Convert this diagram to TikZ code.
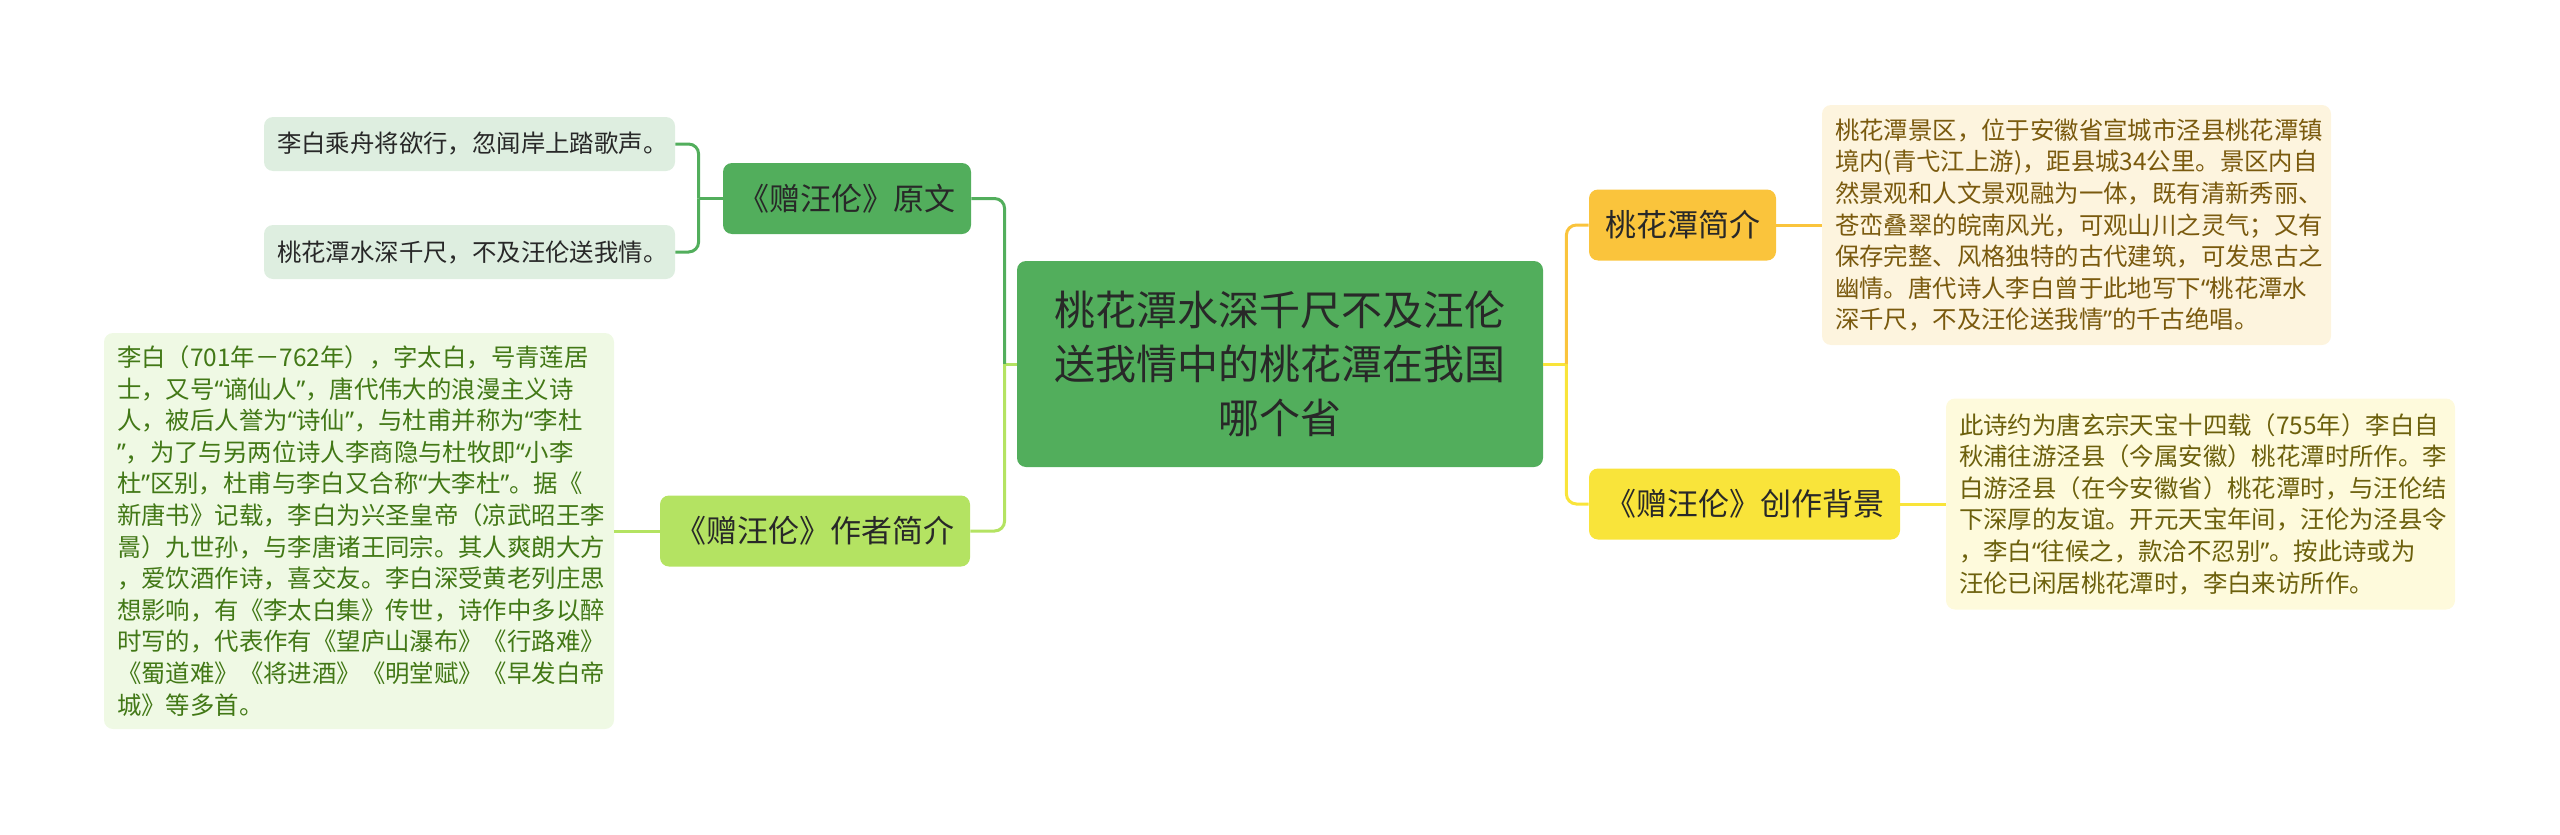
\documentclass[tikz,border=0pt]{standalone}
\usepackage{fontspec}
\setmainfont{Noto Sans CJK SC}
\newfontfamily\quotefont{Noto Sans}
\newcommand{\qtL}{{\quotefont “}}
\newcommand{\qtR}{{\quotefont ”}}
\usepackage{tikz}
\usetikzlibrary{positioning}
\definecolor{mapGreen}{RGB}{82,174,92}
\definecolor{mapLime}{RGB}{180,227,98}
\definecolor{mapOrange}{RGB}{250,196,60}
\definecolor{mapYellow}{RGB}{249,228,58}
\definecolor{leafGreen}{RGB}{222,238,224}
\definecolor{leafLime}{RGB}{239,249,228}
\definecolor{leafOrange}{RGB}{253,244,222}
\definecolor{leafYellow}{RGB}{254,250,220}
\definecolor{txtDark}{RGB}{40,40,40}
\definecolor{txtLime}{RGB}{66,120,22}
\definecolor{txtOrange}{RGB}{122,90,14}
\definecolor{txtYellow}{RGB}{108,96,12}

\begin{document}
\begin{tikzpicture}[x=0.5pt,y=-0.5pt,
    box/.style={rounded corners=4.5pt, inner sep=0pt},
    rootbox/.style={box, fill=mapGreen, text=txtDark, align=center,
      font=\fontsize{20.5}{27}\selectfont},
    midbox/.style={box, text=txtDark, minimum height=35.5pt,
      font=\fontsize{15.5}{19}\selectfont},
    leafbox/.style={box, inner xsep=6.5pt, align=left,
      font=\fontsize{12.2}{15.8}\selectfont},
    link/.style={line width=1.5pt, rounded corners=5pt}]

    \useasboundingbox (0,0) rectangle (2560,835);

    % centre
    \node[rootbox, minimum width=263pt, minimum height=103pt] (root) at (1280,364)
      {桃花潭水深千尺不及汪伦\\送我情中的桃花潭在我国\\哪个省};

    % left branches
    \node[midbox, fill=mapGreen, minimum width=124pt] (yuanwen) at (847,198.5)
      {《赠汪伦》原文};
    \node[midbox, fill=mapLime, minimum width=155pt] (zuozhe) at (815,531)
      {《赠汪伦》作者简介};

    \node[leafbox, fill=leafGreen, text=txtDark, text width=192.5pt, minimum height=27pt]
      (shiju1) at (469.5,144) {李白乘舟将欲行，忽闻岸上踏歌声。};
    \node[leafbox, fill=leafGreen, text=txtDark, text width=192.5pt, minimum height=27pt]
      (shiju2) at (469.5,252) {桃花潭水深千尺，不及汪伦送我情。};

    \node[leafbox, fill=leafLime, text=txtLime, text width=242pt, minimum height=198pt]
      (zuozheText) at (359,531) {李白（701年－762年），字太白，号青莲居\\
      士，又号\qtL 谪仙人\qtR ，唐代伟大的浪漫主义诗\\
      人，被后人誉为\qtL 诗仙\qtR ，与杜甫并称为\qtL 李杜\\
      \qtR ，为了与另两位诗人李商隐与杜牧即\qtL 小李\\
      杜\qtR 区别，杜甫与李白又合称\qtL 大李杜\qtR 。据《\\
      新唐书》记载，李白为兴圣皇帝（凉武昭王李\\
      暠）九世孙，与李唐诸王同宗。其人爽朗大方\\
      ，爱饮酒作诗，喜交友。李白深受黄老列庄思\\
      想影响，有《李太白集》传世，诗作中多以醉\\
      时写的，代表作有《望庐山瀑布》《行路难》\\
      《蜀道难》《将进酒》《明堂赋》《早发白帝\\
      城》等多首。};

    % right branches
    \node[midbox, fill=mapOrange, minimum width=93.5pt] (taohua) at (1682.5,225)
      {桃花潭简介};
    \node[midbox, fill=mapYellow, minimum width=155.5pt] (beijing) at (1744.5,504)
      {《赠汪伦》创作背景};

    \node[leafbox, fill=leafOrange, text=txtOrange, text width=241.5pt, minimum height=120pt]
      (taohuaText) at (2076.5,225) {桃花潭景区，位于安徽省宣城市泾县桃花潭镇\\
      境内(青弋江上游)，距县城34公里。景区内自\\
      然景观和人文景观融为一体，既有清新秀丽、\\
      苍峦叠翠的皖南风光，可观山川之灵气；又有\\
      保存完整、风格独特的古代建筑，可发思古之\\
      幽情。唐代诗人李白曾于此地写下\qtL 桃花潭水\\
      深千尺，不及汪伦送我情\qtR 的千古绝唱。};
    \node[leafbox, fill=leafYellow, text=txtYellow, text width=241.5pt, minimum height=105.5pt]
      (beijingText) at (2200.5,504) {此诗约为唐玄宗天宝十四载（755年）李白自\\
      秋浦往游泾县（今属安徽）桃花潭时所作。李\\
      白游泾县（在今安徽省）桃花潭时，与汪伦结\\
      下深厚的友谊。开元天宝年间，汪伦为泾县令\\
      ，李白\qtL 往候之，款洽不忍别\qtR 。按此诗或为\\
      汪伦已闲居桃花潭时，李白来访所作。};

    % connectors, left
    \draw[link, mapLime] (root.west) -- ++(-12,0) coordinate (rootL);
    \draw[link, mapGreen] (rootL) |- (yuanwen.east);
    \draw[link, mapLime] (rootL) |- (zuozhe.east);
    \draw[link, mapGreen] (yuanwen.west) -- ++(-24,0) coordinate (yuanwenL);
    \draw[link, mapGreen] (yuanwenL) |- (shiju1.east);
    \draw[link, mapGreen] (yuanwenL) |- (shiju2.east);
    \draw[link, mapLime] (zuozhe.west) -- (zuozheText.east);

    % connectors, right
    \draw[link, mapYellow] (root.east) -- ++(23,0) coordinate (rootR);
    \draw[link, mapOrange] (rootR) |- (taohua.west);
    \draw[link, mapYellow] (rootR) |- (beijing.west);
    \draw[link, mapOrange] (taohua.east) -- (taohuaText.west);
    \draw[link, mapYellow] (beijing.east) -- (beijingText.west);

\end{tikzpicture}
\end{document}
